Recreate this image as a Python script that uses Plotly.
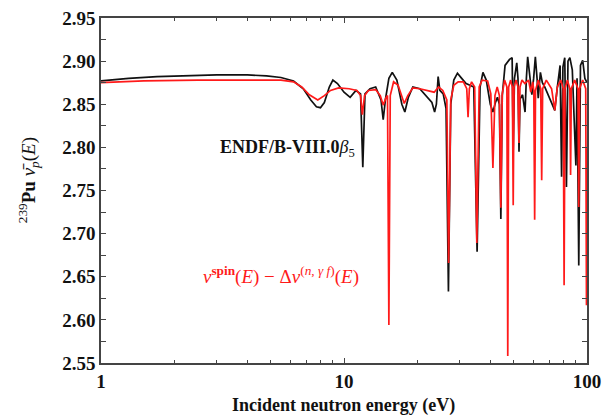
import plotly.graph_objects as go

# ENDF/B-VIII.0 beta5 prompt nu-bar for Pu-239 (incident energy in eV)
endf_energy = [
    1.0, 1.3, 1.7, 2.2, 3.0, 4.0, 4.8, 5.5, 6.2, 6.8, 7.3, 7.7, 8.0, 8.3, 8.7, 9.0,
    9.4, 10.0, 10.6, 11.2, 11.7, 11.95, 12.2, 12.8, 13.5, 14.2, 14.5, 14.8, 15.3, 15.8,
    16.5, 17.3, 17.8, 18.4, 19.2, 20.5, 22.0, 23.0, 23.6, 24.0, 24.4, 24.8, 25.6, 26.3,
    26.9, 27.5, 28.3, 29.3, 30.5, 31.8, 33.0, 34.2, 35.3, 36.3, 37.3, 38.5, 40.0, 41.0,
    42.0, 42.8, 43.6, 44.2, 44.8, 46.0, 48.0, 49.2, 49.7, 50.3, 51.4, 52.0, 52.5, 53.0,
    54.3, 55.6, 56.3, 57.0, 58.3, 59.3, 60.3, 61.3, 62.3, 63.0, 64.3, 65.5, 67.0, 70.0,
    73.7, 75.5, 77.5, 78.6, 79.6, 81.0, 82.3, 83.5, 85.0, 87.0, 90.0, 91.0, 92.5, 94.0,
    96.0, 98.0, 100.0,
]
endf_nubar = [
    2.877, 2.880, 2.882, 2.883, 2.884, 2.884, 2.883, 2.881, 2.877, 2.868, 2.855, 2.847, 2.846, 2.852, 2.870, 2.878,
    2.874, 2.864, 2.858, 2.866, 2.862, 2.777, 2.862, 2.868, 2.870, 2.855, 2.832, 2.855, 2.880, 2.887,
    2.878, 2.850, 2.841, 2.858, 2.870, 2.868, 2.858, 2.852, 2.841, 2.850, 2.882, 2.866, 2.862, 2.845,
    2.633, 2.850, 2.878, 2.886, 2.880, 2.874, 2.872, 2.870, 2.679, 2.870, 2.887, 2.878, 2.850, 2.841,
    2.852, 2.858, 2.850, 2.717, 2.860, 2.895, 2.902, 2.904, 2.797, 2.880, 2.898, 2.880, 2.795, 2.856,
    2.861, 2.841, 2.880, 2.905, 2.880, 2.861, 2.880, 2.905, 2.880, 2.857, 2.887, 2.875, 2.870, 2.858,
    2.843, 2.870, 2.895, 2.766, 2.893, 2.904, 2.754, 2.900, 2.904, 2.890, 2.779, 2.880, 2.663, 2.895,
    2.901, 2.880, 2.875,
]

# Spin-dependent nu minus the (n,gamma f) correction
spin_energy = [
    1.0, 1.5, 2.5, 4.0, 5.5, 6.2, 6.7, 7.2, 7.8, 8.3, 8.8, 9.5, 10.5, 11.3, 11.7, 11.9,
    12.15, 12.6, 13.5, 14.1, 14.5, 14.9, 15.1, 15.3, 15.5, 16.0, 16.7, 17.5, 17.7, 18.3,
    19.2, 20.5, 22.0, 23.5, 24.5, 25.5, 26.5, 26.95, 27.5, 28.3, 29.5, 31.0, 32.0, 32.4,
    32.8, 33.5, 34.5, 35.2, 36.0, 37.0, 39.0, 40.2, 41.0, 41.8, 42.7, 43.6, 44.2, 44.8,
    45.8, 46.8, 47.2, 47.6, 48.5, 49.3, 49.7, 50.1, 51.0, 52.0, 52.5, 53.0, 54.0, 55.5,
    57.5, 58.7, 59.8, 60.4, 60.9, 61.4, 63.0, 64.5, 65.1, 65.7, 68.0, 71.5, 73.7, 75.5,
    78.0, 79.8, 80.5, 81.2, 83.0, 85.0, 85.6, 86.2, 89.0, 91.8, 92.5, 93.2, 96.0, 98.8,
    99.5, 100.0,
]
spin_nubar = [
    2.875, 2.877, 2.878, 2.878, 2.878, 2.876, 2.870, 2.861, 2.855, 2.860, 2.866, 2.869, 2.868, 2.866, 2.860, 2.838,
    2.860, 2.866, 2.867, 2.860, 2.849, 2.858, 2.860, 2.594, 2.860, 2.876, 2.872, 2.855, 2.851, 2.860,
    2.869, 2.868, 2.866, 2.864, 2.870, 2.866, 2.855, 2.666, 2.855, 2.872, 2.876, 2.876, 2.868, 2.835,
    2.868, 2.876, 2.870, 2.689, 2.870, 2.878, 2.877, 2.862, 2.776, 2.860, 2.870, 2.860, 2.730, 2.862,
    2.878, 2.870, 2.558, 2.870, 2.878, 2.870, 2.733, 2.870, 2.878, 2.870, 2.805, 2.870, 2.878, 2.874,
    2.878, 2.864, 2.876, 2.866, 2.716, 2.866, 2.878, 2.868, 2.762, 2.868, 2.878, 2.868, 2.843, 2.870,
    2.878, 2.868, 2.640, 2.868, 2.878, 2.868, 2.768, 2.868, 2.878, 2.868, 2.731, 2.868, 2.878, 2.868,
    2.617, 2.800,
]

y_major = [2.55, 2.60, 2.65, 2.70, 2.75, 2.80, 2.85, 2.90, 2.95]
y_minor = [2.575, 2.625, 2.675, 2.725, 2.775, 2.825, 2.875, 2.925]
x_major = [1, 10, 100]
x_minor = [2, 3, 4, 5, 6, 7, 8, 9, 20, 30, 40, 50, 60, 70, 80, 90]

SERIF = "Liberation Serif, Times New Roman, serif"
AXIS_GREY = "#444444"

fig = go.Figure()
fig.add_trace(go.Scatter(x=endf_energy, y=endf_nubar, mode="lines",
                         line=dict(color="#111111", width=1.7), showlegend=False))
fig.add_trace(go.Scatter(x=spin_energy, y=spin_nubar, mode="lines",
                         line=dict(color="#ff1a1a", width=1.7), showlegend=False))

fig.update_xaxes(
    type="log", range=[0, 2], automargin=False,
    tickvals=x_major, ticktext=["<b>1</b>", "<b>10</b>", "<b>100</b>"],
    ticks="inside", ticklen=5, tickwidth=1, tickcolor=AXIS_GREY,
    minor=dict(tickvals=x_minor, ticks="inside", ticklen=3, tickcolor=AXIS_GREY),
    showline=True, linecolor=AXIS_GREY, linewidth=1.5, mirror="ticks",
    showgrid=False, zeroline=False,
    tickfont=dict(family=SERIF, size=19, color="#111"),
)
fig.update_yaxes(
    range=[2.55, 2.95], automargin=False,
    tickvals=y_major, ticktext=[f"<b>{v:.2f}</b>" for v in y_major],
    ticks="inside", ticklen=5, tickwidth=1, tickcolor=AXIS_GREY,
    minor=dict(tickvals=y_minor, ticks="inside", ticklen=5, tickcolor=AXIS_GREY),
    showline=True, linecolor=AXIS_GREY, linewidth=1.5, mirror="ticks",
    showgrid=False, zeroline=False,
    tickfont=dict(family=SERIF, size=19, color="#111"),
)

labels = [
    dict(x=0.383, y=0.623, angle=0, size=18, color="#111",
         text="<b>ENDF/B-VIII.0</b><i>β</i><sub>5</sub>"),
    dict(x=0.371, y=0.255, angle=0, size=19, color="#ff1a1a",
         text="<i>ν</i><sup><b>spin</b></sup>(<i>E</i>) − Δ<i>ν</i>"
              "<sup>(<i>n</i>, <i>γ f</i>)</sup>(<i>E</i>)"),
    dict(x=-0.150, y=0.530, angle=-90, size=19, color="#111",
         text="<sup>239</sup><b>Pu</b> <i>ν̄</i><sub><i>p</i></sub>(<i>E</i>)"),
    dict(x=0.498, y=-0.122, angle=0, size=18, color="#111",
         text="<b>Incident neutron energy (eV)</b>"),
]
for lab in labels:
    fig.add_annotation(
        xref="paper", yref="paper", x=lab["x"], y=lab["y"],
        xanchor="center", yanchor="middle", showarrow=False,
        textangle=lab["angle"], text=lab["text"],
        font=dict(family=SERIF, size=lab["size"], color=lab["color"]),
    )

fig.update_layout(
    width=604, height=416,
    margin=dict(l=101, r=17, t=18, b=53),
    paper_bgcolor="white", plot_bgcolor="white",
)

fig.write_html("out.html")
